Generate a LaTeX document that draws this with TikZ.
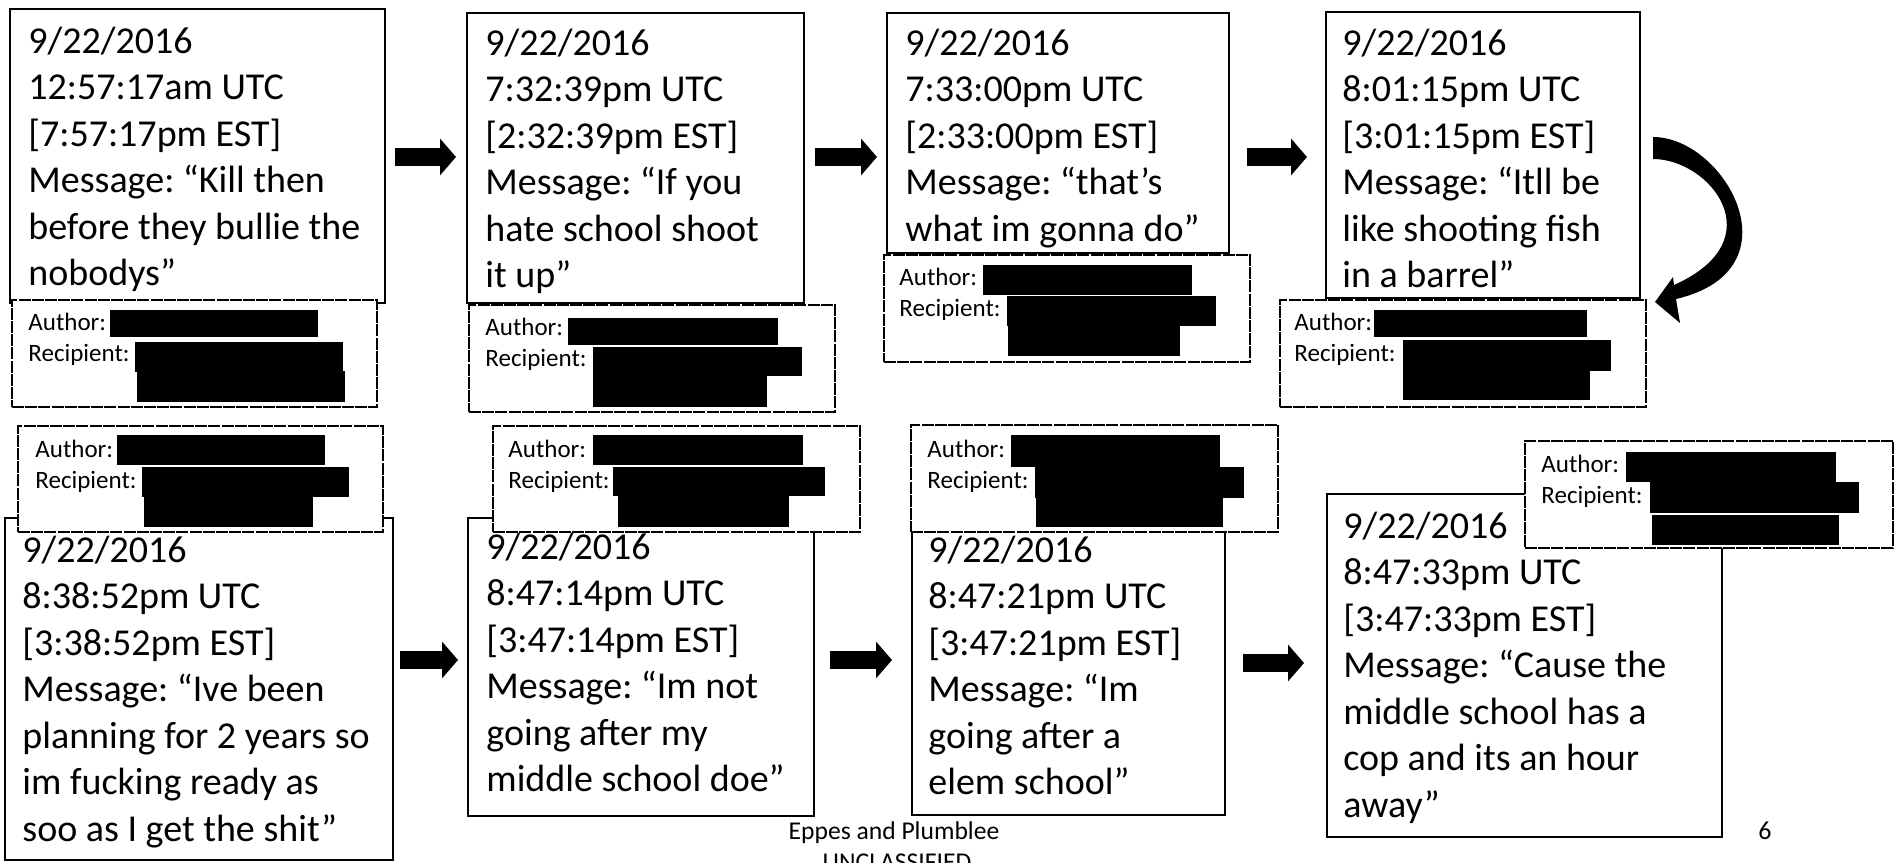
\documentclass[tikz,border=0pt]{standalone}
\usepackage{fontspec}
\setmainfont{Carlito}
\frenchspacing
\usetikzlibrary{arrows.meta,fit}
\begin{document}
\begin{tikzpicture}[x=0.5pt,y=-0.5pt,
  msgbox/.style={draw=black, line width=1.1pt, fill=white, inner sep=0pt, rectangle},
  authbox/.style={draw=black, line width=0.9pt, dash pattern=on 6pt off 0.6pt, fill=white, inner sep=0pt, rectangle},
  redact/.style={fill=black, inner sep=0pt, rectangle},
  msgtext/.style={anchor=north west, yshift=16.275pt, inner sep=0pt, align=left, font=\fontsize{19pt}{23.25pt}\selectfont},
  authtext/.style={anchor=north west, yshift=10.85pt, inner sep=0pt, align=left, font=\fontsize{12.5pt}{15.5pt}\selectfont},
  foot/.style={anchor=base, inner sep=0pt, font=\fontsize{12.8pt}{15pt}\selectfont},
  blockarrow/.style={line width=9pt, -{Triangle[width=18pt,length=8pt]}},
]
\useasboundingbox (0,0) rectangle (1900,862);
\clip (0,0) rectangle (1900,862);
\fill[white] (0,0) rectangle (1900,862);

% ---------- top row ----------
% message 1
\node[msgbox, fit={(10,9)(385,303)}] (b1) {};
\node[msgtext] (t1) at (28,53) {\strut 9/22/2016\\12:57:17am UTC\\{[}7:57:17pm EST]\\Message: “Kill then\\before they bullie the\\nobodys”};
\node[authbox, fit={(12,300)(377,407)}] (a1) {};
\node[authtext] (at1) at (28,330) {\strut Author:\\Recipient:};
\node[redact, fit={(110,310)(318,337)}] (r1a) {};
\node[redact, fit={(135,342)(343,372)}] (r1b) {};
\node[redact, fit={(137,371)(345,402)}] (r1c) {};

% message 2
\node[msgbox, fit={(467,13)(804,303)}] (b2) {};
\node[msgtext] (t2) at (485,55) {\strut 9/22/2016\\7:32:39pm UTC\\{[}2:32:39pm EST]\\Message: “If you\\hate school shoot\\it up”};
\node[authbox, fit={(469,305)(835,412)}] (a2) {};
\node[authtext] (at2) at (485,335) {\strut Author:\\Recipient:};
\node[redact, fit={(568,318)(778,345)}] (r2a) {};
\node[redact, fit={(593,347)(802,376)}] (r2b) {};
\node[redact, fit={(593,375)(767,407)}] (r2c) {};

% message 3
\node[msgbox, fit={(887,13)(1229,253)}] (b3) {};
\node[msgtext] (t3) at (905,55) {\strut 9/22/2016\\7:33:00pm UTC\\{[}2:33:00pm EST]\\Message: “that’s\\what im gonna do”};
\node[authbox, fit={(884,255)(1250,362)}] (a3) {};
\node[authtext] (at3) at (899,285) {\strut Author:\\Recipient:};
\node[redact, fit={(983,265)(1192,295)}] (r3a) {};
\node[redact, fit={(1007,296)(1216,326)}] (r3b) {};
\node[redact, fit={(1008,325)(1180,356)}] (r3c) {};

% message 4
\node[msgbox, fit={(1326,12)(1640,298)}] (b4) {};
\node[msgtext] (t4) at (1342,55) {\strut 9/22/2016\\8:01:15pm UTC\\{[}3:01:15pm EST]\\Message: “Itll be\\like shooting fish\\in a barrel”};
\node[authbox, fit={(1280,300)(1646,407)}] (a4) {};
\node[authtext] (at4) at (1294,330) {\strut Author:\\Recipient:};
\node[redact, fit={(1374,310)(1587,337)}] (r4a) {};
\node[redact, fit={(1403,340)(1611,371)}] (r4b) {};
\node[redact, fit={(1403,370)(1590,400)}] (r4c) {};

% ---------- bottom row ----------
% message 5
\node[msgbox, fit={(5,518)(393,860)}] (b5) {};
\node[msgtext] (t5) at (22,562) {\strut 9/22/2016\\8:38:52pm UTC\\{[}3:38:52pm EST]\\Message: “Ive been\\planning for 2 years so\\im fucking ready as\\soo as I get the shit”};
\node[authbox, fit={(18,426)(383,532)}] (a5) {};
\node[authtext] (at5) at (35,457) {\strut Author:\\Recipient:};
\node[redact, fit={(117,435)(325,465)}] (r5a) {};
\node[redact, fit={(142,467)(349,497)}] (r5b) {};
\node[redact, fit={(144,496)(313,527)}] (r5c) {};

% message 6
\node[msgbox, fit={(468,518)(814,816)}] (b6) {};
\node[msgtext] (t6) at (486,559) {\strut 9/22/2016\\8:47:14pm UTC\\{[}3:47:14pm EST]\\Message: “Im not\\going after my\\middle school doe”};
\node[authbox, fit={(493,426)(860,532)}] (a6) {};
\node[authtext] (at6) at (508,457) {\strut Author:\\Recipient:};
\node[redact, fit={(593,435)(803,465)}] (r6a) {};
\node[redact, fit={(613,467)(825,496)}] (r6b) {};
\node[redact, fit={(618,495)(789,527)}] (r6c) {};

% message 7
\node[msgbox, fit={(912,530)(1225,815)}] (b7) {};
\node[msgtext] (t7) at (928,562) {\strut 9/22/2016\\8:47:21pm UTC\\{[}3:47:21pm EST]\\Message: “Im\\going after a\\elem school”};
\node[authbox, fit={(911,425)(1278,532)}] (a7) {};
\node[authtext] (at7) at (927,457) {\strut Author:\\Recipient:};
\node[redact, fit={(1011,435)(1220,467)}] (r7a) {};
\node[redact, fit={(1035,467)(1244,498)}] (r7b) {};
\node[redact, fit={(1036,497)(1223,527)}] (r7c) {};

% message 8
\node[msgbox, fit={(1327,494)(1722,837)}] (b8) {};
\node[msgtext] (t8) at (1343,538) {\strut 9/22/2016\\8:47:33pm UTC\\{[}3:47:33pm EST]\\Message: “Cause the\\middle school has a\\cop and its an hour\\away”};
\node[authbox, fit={(1525,441)(1893,548)}] (a8) {};
\node[authtext] (at8) at (1541,472) {\strut Author:\\Recipient:};
\node[redact, fit={(1626,452)(1836,482)}] (r8a) {};
\node[redact, fit={(1650,482)(1859,513)}] (r8b) {};
\node[redact, fit={(1652,515)(1839,545)}] (r8c) {};

% ---------- arrows ----------
\coordinate (ar1s) at (395,157); \coordinate (ar1e) at (456,157);
\coordinate (ar2s) at (815,157); \coordinate (ar2e) at (877,157);
\coordinate (ar3s) at (1247,157); \coordinate (ar3e) at (1307,157);
\coordinate (ar5s) at (400,660); \coordinate (ar5e) at (458,660);
\coordinate (ar6s) at (830,660); \coordinate (ar6e) at (892,660);
\coordinate (ar7s) at (1243,663); \coordinate (ar7e) at (1304,663);
\draw[blockarrow] (ar1s) -- (ar1e);
\draw[blockarrow] (ar2s) -- (ar2e);
\draw[blockarrow] (ar3s) -- (ar3e);
\draw[blockarrow] (ar5s) -- (ar5e);
\draw[blockarrow] (ar6s) -- (ar6e);
\draw[blockarrow] (ar7s) -- (ar7e);

% curved arrow from message 4 down to its author box
\fill (1653,137) .. controls (1725,137) and (1800,270) .. (1676,299)
  -- (1680,323) -- (1655,302) -- (1673,277) -- (1674,285)
  .. controls (1775,240) and (1710,159) .. (1653,159) -- cycle;

% ---------- footer ----------
\node[foot] (ft) at (894,839) {Eppes and Plumblee};
\node[foot] (uc) at (897,870) {UNCLASSIFIED};
\node[foot, font=\fontsize{13pt}{15pt}\selectfont] (pg) at (1765,839) {6};
\end{tikzpicture}
\end{document}
